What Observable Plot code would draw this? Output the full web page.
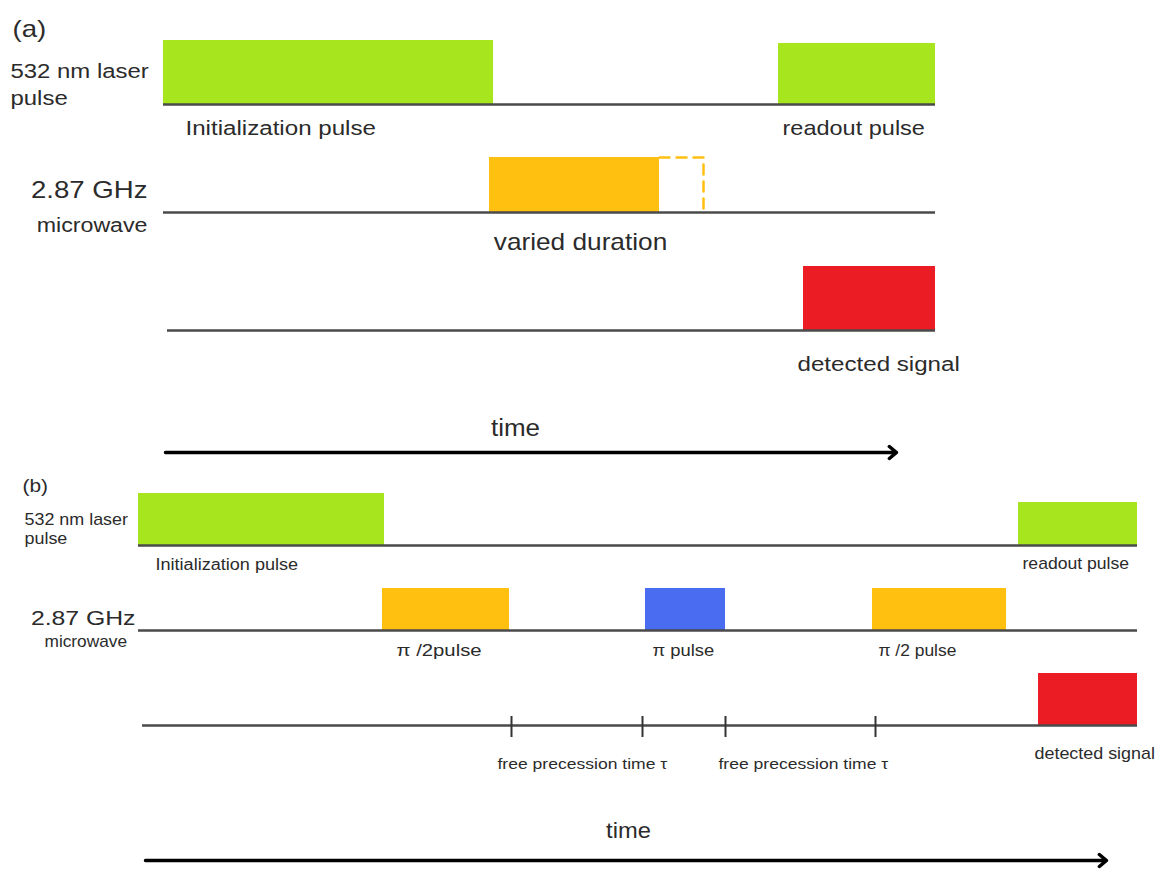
<!DOCTYPE html>
<html>
<head>
<meta charset="utf-8">
<script src="https://cdn.jsdelivr.net/npm/d3@7"></script>
<script src="https://cdn.jsdelivr.net/npm/@observablehq/plot@0.6"></script>
<style>
  body { margin: 0; background: #fff; }
  #chart svg { display: block; }
</style>
</head>
<body>
<div id="chart"></div>
<script>
// Pulse sequences for NV-centre experiments.
// t = position along the time axis, v = vertical level of each channel (top of pulse / baseline).

const colors = { laser: "#a7e51f", mw: "#ffc010", pi: "#4a6cf0", det: "#ec1c24" };

// (a) Rabi sequence
const pulsesA = [
  { kind: "laser", t0: 163, t1: 493, top: 40,  base: 104 },
  { kind: "laser", t0: 778, t1: 935, top: 43,  base: 104 },
  { kind: "mw",    t0: 489, t1: 659, top: 157, base: 212 },
  { kind: "det",   t0: 803, t1: 935, top: 266, base: 330 }
];
const baselinesA = [
  { t0: 163, t1: 935, v: 104 },
  { t0: 163, t1: 935, v: 212 },
  { t0: 167, t1: 935, v: 330 }
];
// extended (optional) microwave duration, shown dashed
const variedA = [
  { t: 659, v: 157 }, { t: 703, v: 157 }, { t: 703, v: 212 }
];

// (b) Hahn-echo sequence
const pulsesB = [
  { kind: "laser", t0: 138,  t1: 384,  top: 493, base: 545 },
  { kind: "laser", t0: 1018, t1: 1137, top: 502, base: 545 },
  { kind: "mw",    t0: 382,  t1: 509,  top: 588, base: 630 },
  { kind: "pi",    t0: 645,  t1: 725,  top: 588, base: 630 },
  { kind: "mw",    t0: 872,  t1: 1006, top: 588, base: 630 },
  { kind: "det",   t0: 1038, t1: 1137, top: 673, base: 725 }
];
const baselinesB = [
  { t0: 138, t1: 1137, v: 545 },
  { t0: 138, t1: 1137, v: 630 },
  { t0: 142, t1: 1137, v: 725 }
];
const tauMarks = [511, 642, 725, 875];

const timeAxes = [
  { t0: 165, t1: 896,  v: 452 },
  { t0: 145, t1: 1106, v: 860 }
];

// Text labels: anchor point, font size and horizontal stretch (sx)
const labels = [
  { t: 12,  v: 29,  text: "(a)", size: 23, sx: 1.2, anchor: "start" },
  { t: 10,  v: 71,  text: "532 nm laser", size: 21, sx: 1.14, anchor: "start" },
  { t: 10,  v: 98,  text: "pulse", size: 21, sx: 1.14, anchor: "start" },
  { t: 185, v: 128, text: "Initialization pulse", size: 21, sx: 1.15, anchor: "start" },
  { t: 782, v: 128, text: "readout pulse", size: 21, sx: 1.12, anchor: "start" },
  { t: 147, v: 190, text: "2.87 GHz", size: 23, sx: 1.2, anchor: "end" },
  { t: 147, v: 225, text: "microwave", size: 20, sx: 1.16, anchor: "end" },
  { t: 580, v: 242, text: "varied duration", size: 23, sx: 1.14, anchor: "middle" },
  { t: 797, v: 364, text: "detected signal", size: 21, sx: 1.15, anchor: "start" },
  { t: 515, v: 428, text: "time", size: 23, sx: 1.13, anchor: "middle" },

  { t: 22,  v: 485, text: "(b)", size: 19, sx: 1.1, anchor: "start" },
  { t: 24,  v: 519, text: "532 nm laser", size: 16, sx: 1.12, anchor: "start" },
  { t: 24,  v: 538, text: "pulse", size: 16, sx: 1.12, anchor: "start" },
  { t: 155, v: 564, text: "Initialization pulse", size: 16, sx: 1.13, anchor: "start" },
  { t: 1022, v: 563, text: "readout pulse", size: 16, sx: 1.1, anchor: "start" },
  { t: 135, v: 618, text: "2.87 GHz", size: 21, sx: 1.18, anchor: "end" },
  { t: 44,  v: 641, text: "microwave", size: 16, sx: 1.08, anchor: "start" },
  { t: 396, v: 650, text: "\u03c0 /2pulse", size: 16, sx: 1.27, anchor: "start" },
  { t: 652, v: 650, text: "\u03c0 pulse", size: 16, sx: 1.15, anchor: "start" },
  { t: 878, v: 650, text: "\u03c0 /2 pulse", size: 16, sx: 1.09, anchor: "start" },
  { t: 497, v: 764, text: "free precession time \u03c4", size: 15, sx: 1.17, anchor: "start" },
  { t: 718, v: 764, text: "free precession time \u03c4", size: 15, sx: 1.17, anchor: "start" },
  { t: 1034, v: 753, text: "detected signal", size: 16, sx: 1.12, anchor: "start" },
  { t: 628, v: 830, text: "time", size: 22, sx: 1.08, anchor: "middle" }
];

const pulses = pulsesA.concat(pulsesB);
const baselines = baselinesA.concat(baselinesB);

const chart = Plot.plot({
  width: 1159,
  height: 871,
  margin: 0,
  x: { domain: [0, 1159], range: [0, 1159], axis: null },
  y: { domain: [0, 871], range: [0, 871], axis: null },
  style: { background: "#fff" },
  marks: [
    Plot.rect(pulses, {
      x1: "t0", x2: "t1", y1: "top", y2: "base",
      fill: d => colors[d.kind]
    }),
    Plot.line(variedA, {
      x: "t", y: "v", stroke: colors.mw, strokeWidth: 2.5,
      strokeDasharray: "10,7"
    }),
    Plot.ruleY(baselines, {
      y: "v", x1: "t0", x2: "t1", stroke: "#4a4a4a", strokeWidth: 2.5
    }),
    Plot.ruleX(tauMarks, {
      x: d => d, y1: 716, y2: 737, stroke: "#333", strokeWidth: 2
    }),
    Plot.arrow(timeAxes, {
      x1: "t0", x2: "t1", y1: "v", y2: "v",
      stroke: "#000", strokeWidth: 3.5, headLength: 4, headAngle: 80
    }),
    // one text mark per label so each can be stretched individually
    ...labels.map(d => Plot.text([d], {
      x: "t", y: "v", text: "text",
      textAnchor: d.anchor, fontSize: d.size,
      fontFamily: "'Liberation Sans', Arial, sans-serif",
      fill: "#2b2b2b"
    }))
  ]
});

// widen the glyphs horizontally around each label's anchor
const texts = chart.querySelectorAll("text");
texts.forEach((el, i) => {
  const sx = labels[i] ? labels[i].sx : 1;
  const tr = el.getAttribute("transform");
  if (tr) {
    el.setAttribute("transform", `${tr} scale(${sx},1)`);
  } else {
    const x = +el.getAttribute("x") || 0, y = +el.getAttribute("y") || 0;
    el.setAttribute("transform", `translate(${x},${y}) scale(${sx},1) translate(${-x},${-y})`);
  }
});

document.getElementById("chart").append(chart);
</script>
</body>
</html>
